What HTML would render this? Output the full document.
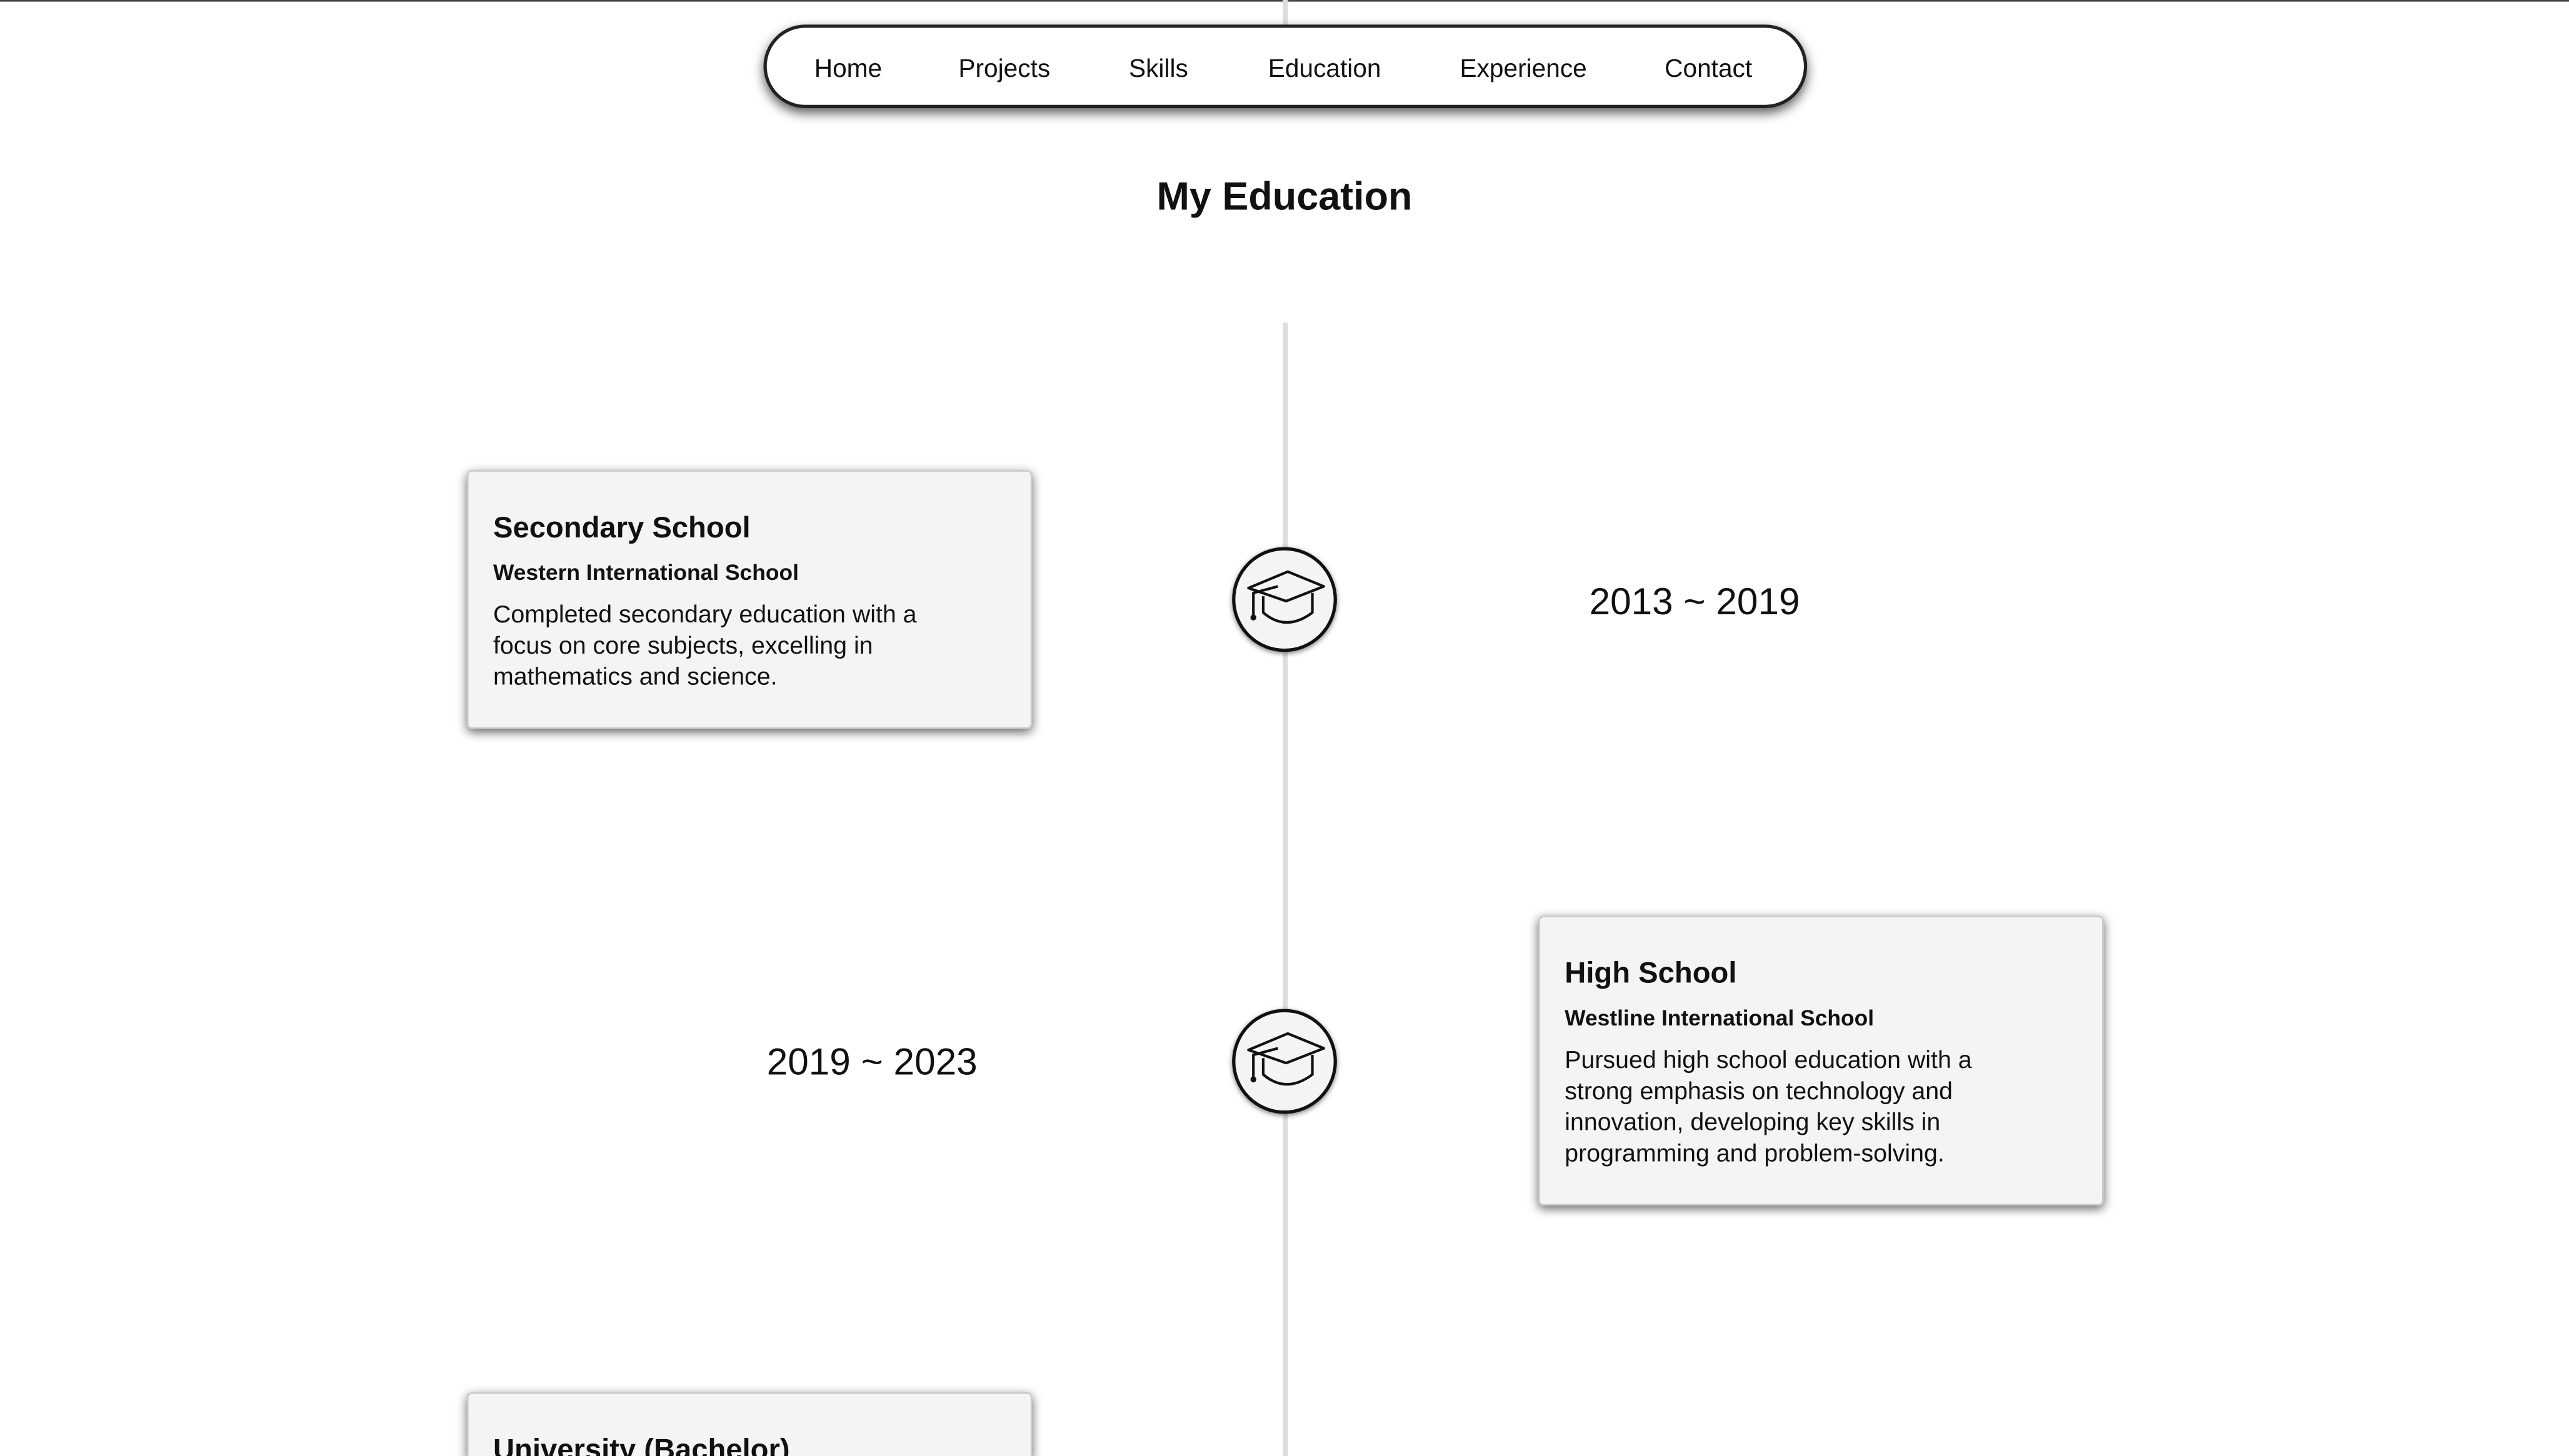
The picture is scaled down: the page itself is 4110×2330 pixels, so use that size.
<!DOCTYPE html>
<html><head><meta charset="utf-8">
<style>
html,body{margin:0;padding:0;background:#fff;overflow:hidden;}
body{width:4110px;height:2330px;position:relative;}
#stage{position:absolute;left:0;top:0;width:1568px;height:889px;overflow:hidden;transform:scale(2.6212);transform-origin:0 0;font-family:"Liberation Sans",sans-serif;color:#111;}
.abs{position:absolute;}
.topline{left:0;top:0;width:1568px;height:1px;background:#444;}
.vline{left:783px;width:3px;background:#ddd;}
.nav{left:466px;top:15px;width:633px;height:47px;border:2px solid #222;border-radius:26px;background:#fff;box-shadow:0 3px 7px rgba(0,0,0,.65);}
.nav span{position:absolute;top:17px;font-size:15.5px;white-space:nowrap;}
.title{left:0;width:1568px;top:107px;text-align:center;font-weight:bold;font-size:24px;}
.card{width:343px;background:#f4f4f4;border:1px solid #ccc;border-radius:3px;box-shadow:0 2px 6px rgba(0,0,0,.6);}
.card h3{position:absolute;left:15px;margin:0;font-size:18px;font-weight:bold;white-space:nowrap;}
.card h4{position:absolute;left:15px;margin:0;font-size:13.5px;font-weight:bold;white-space:nowrap;}
.card p{position:absolute;left:15px;margin:0;font-size:15px;line-height:19px;white-space:nowrap;}
.circ{width:60px;height:60px;border:2px solid #111;border-radius:50%;background:#f4f4f4;box-shadow:0 1px 3px rgba(0,0,0,.5);}
.date{font-size:23px;white-space:nowrap;}
</style></head>
<body>
<div id="stage">
<div class="abs topline"></div>
<div class="abs vline" style="top:0;height:16px"></div>
<div class="abs vline" style="top:197px;height:692px"></div>

<div class="abs nav">
<span style="left:29px">Home</span>
<span style="left:117px">Projects</span>
<span style="left:221px">Skills</span>
<span style="left:306px">Education</span>
<span style="left:423px">Experience</span>
<span style="left:548px">Contact</span>
</div>

<div class="abs title">My Education</div>

<div class="abs card" style="left:285px;top:287px;height:156px">
<h3 style="top:24px">Secondary School</h3>
<h4 style="top:54px">Western International School</h4>
<p style="top:78px">Completed secondary education with a<br>focus on core subjects, excelling in<br>mathematics and science.</p>
</div>
<div class="abs circ" style="left:752px;top:334px">
<svg width="60" height="60" viewBox="0 0 60 60"><g fill="none" stroke="#111" stroke-width="1.6" stroke-linejoin="round"><path d="M8 23 L32 13 L54 22 L31 31 Z"/><path d="M17 28 V38 Q31 50 47 38 V26"/><path d="M26 22 L11 26 V40"/></g><circle cx="11" cy="41" r="1.8" fill="#111"/></svg>
</div>
<div class="abs date" style="left:970px;top:354px">2013 ~ 2019</div>

<div class="abs card" style="left:939px;top:559px;height:175px">
<h3 style="top:24px">High School</h3>
<h4 style="top:54px">Westline International School</h4>
<p style="top:78px">Pursued high school education with a<br>strong emphasis on technology and<br>innovation, developing key skills in<br>programming and problem-solving.</p>
</div>
<div class="abs circ" style="left:752px;top:616px">
<svg width="60" height="60" viewBox="0 0 60 60"><g fill="none" stroke="#111" stroke-width="1.6" stroke-linejoin="round"><path d="M8 23 L32 13 L54 22 L31 31 Z"/><path d="M17 28 V38 Q31 50 47 38 V26"/><path d="M26 22 L11 26 V40"/></g><circle cx="11" cy="41" r="1.8" fill="#111"/></svg>
</div>
<div class="abs date" style="left:468px;top:635px">2019 ~ 2023</div>

<div class="abs card" style="left:285px;top:850px;height:39px;overflow:hidden;border-bottom:none;border-radius:3px 3px 0 0">
<h3 style="top:24px">University (Bachelor)</h3>
</div>
</div>
</body></html>
